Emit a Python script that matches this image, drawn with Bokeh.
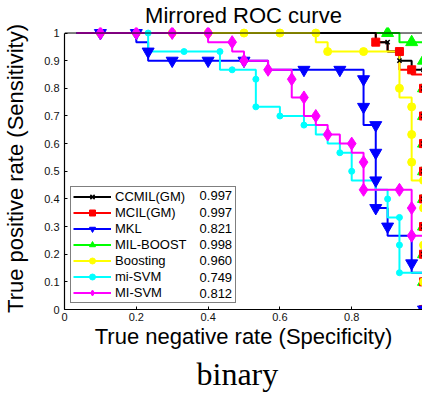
from bokeh.plotting import figure
from bokeh.models import Range1d, Span, Legend, LegendItem, Title, FixedTicker
from bokeh.core.properties import value
from bokeh.embed import file_html
from bokeh.resources import INLINE

# ---------------- data ----------------
names = ["CCMIL(GM)", "MCIL(GM)", "MKL", "MIL-BOOST", "Boosting", "mi-SVM", "MI-SVM"]
auc_text = ["0.997", "0.997", "0.821", "0.998", "0.960", "0.749", "0.812"]

ccmil_x = [0.033, 0.867, 0.867, 0.9, 0.9, 0.933, 0.933, 0.967, 0.967, 1.0, 1.0]
ccmil_y = [1.0, 1.0, 0.967, 0.967, 0.933, 0.933, 0.9, 0.9, 0.867, 0.867, 0.0]
ccmil_mx = [0.9, 0.933, 1.0, 1.0, 1.0, 1.0, 1.0, 1.0, 1.0, 1.0, 1.0, 1.0]
ccmil_my = [0.967, 0.9, 0.867, 0.8, 0.7, 0.6, 0.5, 0.4, 0.3, 0.2, 0.1, 0.0]

mcil_x = [0.033, 0.867, 0.867, 0.9, 0.9, 0.933, 0.933, 0.967, 0.967, 1.0, 1.0]
mcil_y = [1.0, 1.0, 0.967, 0.967, 0.933, 0.933, 0.867, 0.867, 0.85, 0.85, 0.0]
mcil_mx = [0.867, 0.933, 0.967, 1.0, 1.0, 1.0, 1.0, 1.0, 1.0, 1.0, 1.0, 1.0]
mcil_my = [0.967, 0.933, 0.867, 0.8, 0.7, 0.6, 0.5, 0.4, 0.3, 0.2, 0.1, 0.0]

mkl_x = [0.033, 0.2, 0.2, 0.233, 0.233, 0.567, 0.567, 0.833, 0.833, 0.867, 0.867,
         0.9, 0.9, 0.967, 0.967, 1.0, 1.0]
mkl_y = [1.0, 1.0, 0.967, 0.967, 0.9, 0.9, 0.867, 0.867, 0.667, 0.667, 0.367,
         0.367, 0.267, 0.267, 0.133, 0.133, 0.0]
mkl_mx = [0.1, 0.2, 0.233, 0.3, 0.4, 0.5, 0.667, 0.767, 0.833, 0.833, 0.867, 0.867,
          0.867, 0.867, 0.9, 0.967, 1.0]
mkl_my = [1.0, 1.0, 0.933, 0.9, 0.9, 0.9, 0.867, 0.867, 0.833, 0.733, 0.667, 0.567,
          0.467, 0.367, 0.3, 0.167, 0.0]

milboost_x = [0.033, 0.933, 0.933, 1.0, 1.0]
milboost_y = [1.0, 1.0, 0.967, 0.967, 0.0]
milboost_mx = [0.9, 0.967, 1.0, 1.0, 1.0, 1.0, 1.0, 1.0, 1.0, 1.0, 1.0, 1.0]
milboost_my = [1.0, 0.967, 0.9, 0.8, 0.7, 0.6, 0.5, 0.4, 0.3, 0.2, 0.1, 0.0]

boost_x = [0.033, 0.7, 0.7, 0.733, 0.733, 0.933, 0.933, 0.967, 0.967, 1.0, 1.0]
boost_y = [1.0, 1.0, 0.967, 0.967, 0.933, 0.933, 0.767, 0.767, 0.467, 0.467, 0.0]
boost_mx = [0.1, 0.2, 0.3, 0.4, 0.5, 0.6, 0.7, 0.733, 0.833, 0.933, 0.967, 0.967,
            0.967, 1.0, 1.0, 1.0, 1.0]
boost_my = [1.0, 1.0, 1.0, 1.0, 1.0, 1.0, 1.0, 0.933, 0.933, 0.8, 0.733, 0.633,
            0.533, 0.467, 0.367, 0.233, 0.1]

misvm_x = [0.033, 0.233, 0.233, 0.433, 0.433, 0.533, 0.533, 0.6, 0.6, 0.667, 0.667,
           0.7, 0.7, 0.733, 0.733, 0.767, 0.767, 0.8, 0.8, 0.867, 0.867, 0.9, 0.9,
           0.933, 0.933, 1.0, 1.0]
misvm_y = [1.0, 1.0, 0.933, 0.933, 0.867, 0.867, 0.733, 0.733, 0.7, 0.7, 0.667,
           0.667, 0.633, 0.633, 0.6, 0.6, 0.567, 0.567, 0.467, 0.467, 0.433, 0.433,
           0.333, 0.333, 0.133, 0.133, 0.0]
misvm_mx = [0.233, 0.333, 0.433, 0.467, 0.533, 0.533, 0.6, 0.667, 0.767, 0.8, 0.9,
            0.933, 0.933, 0.933]
misvm_my = [1.0, 0.933, 0.933, 0.867, 0.833, 0.733, 0.7, 0.667, 0.567, 0.5, 0.4,
            0.333, 0.233, 0.133]

MIsvm_x = [0.033, 0.4, 0.4, 0.467, 0.467, 0.5, 0.5, 0.567, 0.567, 0.633, 0.633,
           0.667, 0.667, 0.7, 0.7, 0.733, 0.733, 0.767, 0.767, 0.8, 0.8, 0.833,
           0.833, 0.967, 0.967, 1.0, 1.0]
MIsvm_y = [1.0, 1.0, 0.967, 0.967, 0.933, 0.933, 0.9, 0.9, 0.867, 0.867, 0.767,
           0.767, 0.7, 0.7, 0.667, 0.667, 0.633, 0.633, 0.6, 0.6, 0.567, 0.567,
           0.433, 0.433, 0.267, 0.267, 0.0]
MIsvm_mx = [0.1, 0.2, 0.3, 0.4, 0.467, 0.5, 0.567, 0.633, 0.667, 0.7, 0.733, 0.8,
            0.833, 0.833, 0.933, 0.967, 0.967]
MIsvm_my = [1.0, 1.0, 1.0, 1.0, 0.967, 0.9, 0.867, 0.833, 0.767, 0.7, 0.633, 0.6,
            0.533, 0.433, 0.433, 0.367, 0.267]

x_ticks = [0, 0.2, 0.4, 0.6, 0.8]
y_ticks = [0, 0.1, 0.2, 0.3, 0.4, 0.5, 0.6, 0.7, 0.8, 0.9, 1.0]
x_tick_labels = {0: "0", 0.2: "0.2", 0.4: "0.4", 0.6: "0.6", 0.8: "0.8"}
y_tick_labels = {0: "0", 0.1: "0.1", 0.2: "0.2", 0.3: "0.3", 0.4: "0.4", 0.5: "0.5",
                 0.6: "0.6", 0.7: "0.7", 0.8: "0.8", 0.9: "0.9", 1.0: "1"}

# ---------------- styling ----------------
FONT = "Liberation Sans"
series = {
    "CCMIL(GM)": dict(x=ccmil_x, y=ccmil_y, mx=ccmil_mx, my=ccmil_my, color="#000000",
                      marker="x", size=6),
    "MCIL(GM)": dict(x=mcil_x, y=mcil_y, mx=mcil_mx, my=mcil_my, color="#ff0000",
                     marker="square", size=8),
    "MKL": dict(x=mkl_x, y=mkl_y, mx=mkl_mx, my=mkl_my, color="#0000ff",
                marker="inverted_triangle", size=12),
    "MIL-BOOST": dict(x=milboost_x, y=milboost_y, mx=milboost_mx, my=milboost_my,
                      color="#00ff00", marker="triangle", size=12),
    "Boosting": dict(x=boost_x, y=boost_y, mx=boost_mx, my=boost_my, color="#ffff00",
                     marker="circle", size=8),
    "mi-SVM": dict(x=misvm_x, y=misvm_y, mx=misvm_mx, my=misvm_my, color="#00ffff",
                   marker="circle", size=6),
    "MI-SVM": dict(x=MIsvm_x, y=MIsvm_y, mx=MIsvm_mx, my=MIsvm_my, color="#ff00ff",
                   marker="diamond", size=13),
}
draw_order = ["MIL-BOOST", "MCIL(GM)", "CCMIL(GM)", "Boosting", "MKL", "mi-SVM", "MI-SVM"]

PX_PER_X = 362.0   # frame pixels per unit on x
PX_PER_Y = 277.0   # frame pixels per unit on y

p = figure(width=422, height=400, output_backend="svg", toolbar_location=None,
           x_range=Range1d(0, 0.9972), y_range=Range1d(0, 1.02),
           min_border_left=61, min_border_right=0, min_border_top=24,
           min_border_bottom=91)
p.title.text = "Mirrored ROC curve"
p.title.align = "center"
p.title.text_font = FONT
p.title.text_font_size = "22px"
p.title.text_font_style = "normal"
p.title.text_color = "black"
p.title.standoff = 0
p.outline_line_color = None
p.background_fill_color = "white"
p.border_fill_color = "white"
p.grid.visible = False

for ax, ticks, labels in ((p.xaxis[0], x_ticks, x_tick_labels), (p.yaxis[0], y_ticks, y_tick_labels)):
    ax.ticker = FixedTicker(ticks=ticks)
    ax.major_label_overrides = labels
    ax.bounds = (0, 1)
    ax.major_tick_in = 3
    ax.major_tick_out = 0
    ax.minor_tick_line_color = None
    ax.axis_line_color = "black"
    ax.axis_line_width = 1.2
    ax.major_tick_line_color = "black"
    ax.major_label_text_font = FONT
    ax.major_label_text_font_size = "11px"
    ax.major_label_text_color = "#111111"
    ax.axis_label_text_font = FONT
    ax.axis_label_text_font_size = "22px"
    ax.axis_label_text_font_style = "normal"
    ax.axis_label_text_color = "black"

p.xaxis.axis_label = "True negative rate (Specificity)"
p.yaxis.axis_label = "True positive rate (Sensitivity)"
p.xaxis.major_label_standoff = 3
p.xaxis.axis_label_standoff = 0
p.yaxis.major_label_standoff = 5
p.yaxis.axis_label_standoff = 13

p.add_layout(Span(location=1.0, dimension="width", line_color="black", line_width=1))

lines = {}
for n in draw_order:
    s = series[n]
    lines[n] = p.line(s["x"], s["y"], line_color=s["color"], line_width=2)
marks = {}
for n in draw_order:
    s = series[n]
    if s["marker"] == "x":
        marks[n] = p.scatter(s["mx"], s["my"], marker="x", size=s["size"],
                             line_color=s["color"], line_width=1.5)
    else:
        marks[n] = p.scatter(s["mx"], s["my"], marker=s["marker"], size=s["size"],
                             fill_color=s["color"], line_color=s["color"])

LEG_X, LEG_Y, PAD, ROW_H, GAP = 6, 6, 2, 15, 1
legend = Legend(items=[LegendItem(label=n, renderers=[lines[n], marks[n]]) for n in names],
                location=(LEG_X, LEG_Y), padding=PAD, spacing=GAP, label_height=ROW_H,
                glyph_height=ROW_H, glyph_width=38, label_standoff=4, label_width=118,
                margin=0, border_line_color="black", border_line_width=1,
                background_fill_color="white", background_fill_alpha=0.0,
                label_text_font=FONT, label_text_font_size="13px", label_text_color="black")
p.add_layout(legend)

# AUC column inside the legend box (right aligned), one per legend row
pitch = 16.3
n_rows = len(auc_text)
auc_x = [(LEG_X + 163) / PX_PER_X] * n_rows
auc_y = [(LEG_Y + PAD + 8 + pitch * (n_rows - 1 - i)) / PX_PER_Y for i in range(n_rows)]
p.text(x=auc_x, y=auc_y, text=auc_text, text_align="right", text_baseline="middle",
       text_font=value(FONT), text_font_size="13px", text_color="black", level="overlay")

p.add_layout(Title(text="binary", align="left", offset=132, text_font="Liberation Serif",
                   text_font_size="32px", text_font_style="normal", text_color="black",
                   standoff=4), "below")

open("out.html", "w").write(file_html(p, INLINE))
